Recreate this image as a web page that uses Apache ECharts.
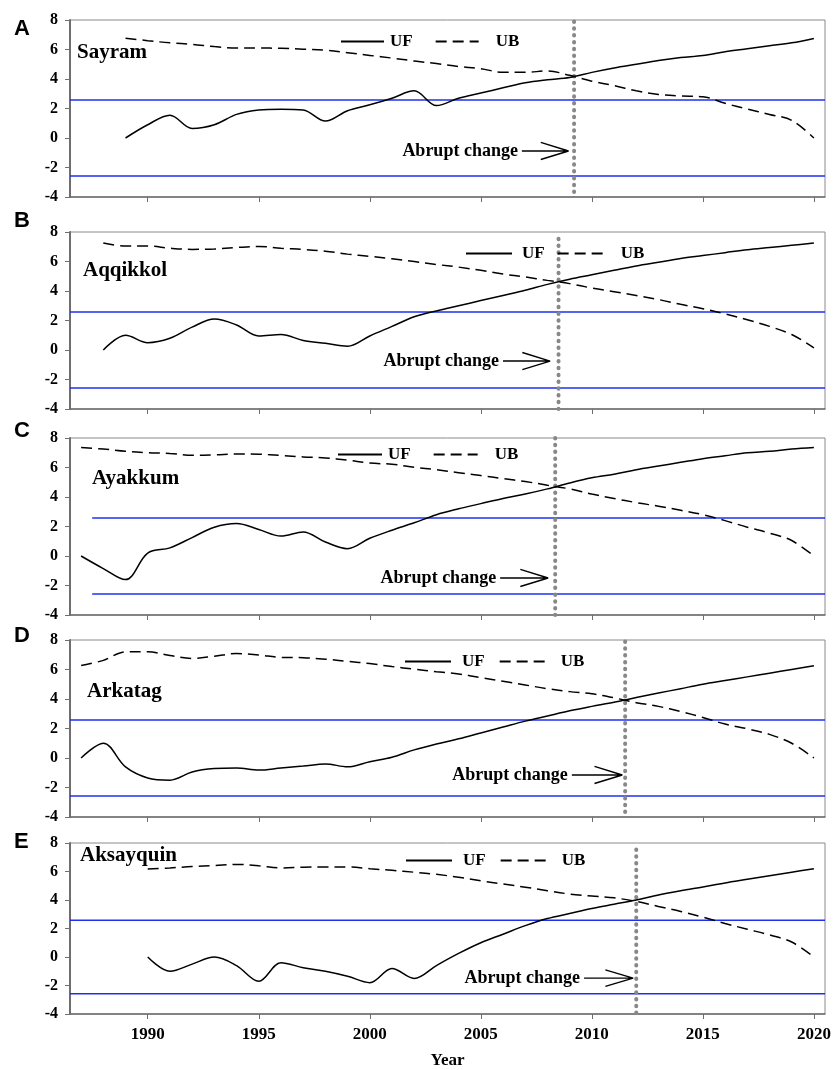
<!DOCTYPE html>
<html>
<head>
<meta charset="utf-8">
<title>Mann-Kendall test, UF / UB</title>
<script src="https://cdn.jsdelivr.net/npm/echarts@6/dist/echarts.min.js"></script>
<style>
    html, body { margin: 0; padding: 0; background: #fff; }
    #chart { width: 834px; height: 1070px; }
</style>
</head>
<body>
<div id="chart"></div>
<script>
// --- data ---
const lakes = ['Sayram', 'Aqqikkol', 'Ayakkum', 'Arkatag', 'Aksayquin'];
const panelLetters = ['A', 'B', 'C', 'D', 'E'];
const startYears = [1989, 1988, 1987, 1987, 1990];
const endYear = 2020;

const ufSayram = [0, 0.9, 1.55, 0.65, 0.9, 1.6, 1.9, 1.95, 1.9, 1.15, 1.85, 2.25, 2.7, 3.2, 2.2, 2.7,
    3.05, 3.4, 3.75, 3.95, 4.1, 4.45, 4.75, 5.0, 5.25, 5.45, 5.6, 5.85, 6.05, 6.25, 6.45, 6.75];
const ubSayram = [6.77, 6.6, 6.45, 6.35, 6.2, 6.1, 6.1, 6.08, 6.02, 5.95, 5.78, 5.6, 5.42, 5.22, 5.05, 4.85,
    4.7, 4.45, 4.45, 4.55, 4.25, 3.85, 3.55, 3.2, 2.95, 2.85, 2.8, 2.35, 1.97, 1.6, 1.2, 0];

const ufAqqikkol = [0, 1.0, 0.5, 0.8, 1.55, 2.1, 1.7, 0.95, 1.05, 0.65, 0.45, 0.25, 0.95, 1.6, 2.25, 2.65,
    3.0, 3.35, 3.7, 4.05, 4.45, 4.8, 5.1, 5.4, 5.7, 5.95, 6.2, 6.4, 6.6, 6.8, 6.95, 7.1, 7.25];
const ubAqqikkol = [7.25, 7.05, 7.05, 6.9, 6.82, 6.85, 6.95, 7.02, 6.9, 6.82, 6.7, 6.5, 6.35, 6.18, 6.0, 5.8,
    5.62, 5.4, 5.15, 4.95, 4.72, 4.5, 4.2, 3.95, 3.7, 3.42, 3.1, 2.8, 2.45, 2.05, 1.6, 1.05, 0.15];

const ufAyakkum = [0, -0.85, -1.6, 0.2, 0.55, 1.25, 1.95, 2.2, 1.8, 1.35, 1.63, 0.95, 0.5, 1.2, 1.75, 2.25,
    2.8, 3.2, 3.55, 3.9, 4.2, 4.55, 4.95, 5.3, 5.55, 5.85, 6.1, 6.35, 6.6, 6.8, 7.0, 7.1, 7.25, 7.35];
const ubAyakkum = [7.35, 7.25, 7.1, 7.0, 6.95, 6.83, 6.85, 6.92, 6.9, 6.82, 6.72, 6.65, 6.5, 6.3, 6.22, 6.02,
    5.85, 5.65, 5.45, 5.25, 5.05, 4.8, 4.55, 4.2, 3.9, 3.62, 3.38, 3.1, 2.8, 2.4, 1.95, 1.55, 1.05, 0];

const ufArkatag = [0, 1.0, -0.6, -1.35, -1.5, -0.95, -0.72, -0.68, -0.82, -0.68, -0.55, -0.4, -0.6, -0.25, 0.05, 0.55,
    0.95, 1.3, 1.7, 2.1, 2.5, 2.85, 3.2, 3.5, 3.78, 4.1, 4.4, 4.7, 5.0, 5.25, 5.5, 5.75, 6.0, 6.25];
const ubArkatag = [6.27, 6.62, 7.2, 7.2, 6.95, 6.75, 6.9, 7.08, 6.98, 6.82, 6.8, 6.7, 6.55, 6.4, 6.2, 6.02,
    5.85, 5.7, 5.45, 5.2, 4.95, 4.7, 4.5, 4.35, 4.08, 3.75, 3.5, 3.15, 2.75, 2.3, 1.98, 1.6, 1.0, 0];

const ufAksayquin = [0, -1.0, -0.5, 0.0, -0.6, -1.7, -0.4, -0.75, -1.0, -1.35, -1.8, -0.8, -1.5, -0.6, 0.25, 1.0,
    1.6, 2.2, 2.7, 3.05, 3.4, 3.7, 4.0, 4.35, 4.65, 4.92, 5.2, 5.45, 5.7, 5.95, 6.2];
const ubAksayquin = [6.18, 6.25, 6.35, 6.42, 6.5, 6.4, 6.25, 6.3, 6.32, 6.32, 6.2, 6.08, 5.95, 5.8, 5.6, 5.35,
    5.12, 4.9, 4.65, 4.42, 4.28, 4.15, 3.9, 3.55, 3.2, 2.8, 2.35, 1.95, 1.55, 1.05, 0];

const ufSeries = [ufSayram, ufAqqikkol, ufAyakkum, ufArkatag, ufAksayquin];
const ubSeries = [ubSayram, ubAqqikkol, ubAyakkum, ubArkatag, ubAksayquin];

const abruptYears = [2009.2, 2008.5, 2008.35, 2011.5, 2012.0];
const dotTops = [7.9, 7.55, 8, 7.9, 7.55];
const arrowFrom = [2006.85, 2006.0, 2005.87, 2009.1, 2009.65];
const arrowTo = [2008.95, 2008.12, 2008.03, 2011.37, 2011.86];
const arrowY = [-0.88, -0.75, -1.49, -1.15, -1.48];
const limitStart = [1986.5, 1986.5, 1987.5, 1986.5, 1986.5];
const criticalZ = 2.58;

const xTicks = [1990, 1995, 2000, 2005, 2010, 2015, 2020];
const xMin = 1986.5, xMax = 2020.5;

// --- layout ---
const gridTops = [20, 232, 438, 640, 843];
const gridH = 177;
const legendPos = [
    { left: 340, top: 33, w: 43, gap: 22, ufPad: 1, ubPad: 12 },
    { left: 465, top: 245, w: 46, gap: 12, ufPad: 5, ubPad: 12 },
    { left: 337, top: 446, w: 44, gap: 22, ufPad: 1, ubPad: 12 },
    { left: 404, top: 653, w: 46, gap: 14, ufPad: 6, ubPad: 10 },
    { left: 405, top: 852, w: 46, gap: 14, ufPad: 6, ubPad: 10 }
];
const namePos = [[77, 42], [83, 260], [92, 468], [87, 681], [80, 845]];
const letterTops = [18, 210, 420, 625, 831];

const serif = "'Liberation Serif', 'Times New Roman', serif";
const sans = "'Liberation Sans', Arial, sans-serif";
const axisGray = '#6e6e6e';

const pairs = (start, vals) => vals.map((v, k) => [start + k, v]);

document.addEventListener('DOMContentLoaded', () => {
    const chart = echarts.init(document.getElementById('chart'), null, { renderer: 'canvas' });

    const grids = [], xAxes = [], yAxes = [], series = [], titles = [], legends = [];

    lakes.forEach((lake, i) => {
        grids.push({
            left: 70, width: 755, top: gridTops[i], height: gridH,
            show: true, borderColor: '#8a8a8a', borderWidth: 1
        });

        xAxes.push({
            type: 'value', gridIndex: i, min: xMin, max: xMax,
            axisLine: { show: true, onZero: false, lineStyle: { color: axisGray, width: 1.5 } },
            axisTick: { show: true, customValues: xTicks, length: 5, lineStyle: { color: axisGray } },
            axisLabel: {
                show: i === 4, customValues: xTicks, formatter: v => String(v), margin: 12,
                fontFamily: serif, fontWeight: 'bold', fontSize: 17, color: '#000'
            },
            splitLine: { show: false },
            name: i === 4 ? 'Year' : '', nameLocation: 'middle', nameGap: 38,
            nameTextStyle: { fontFamily: serif, fontWeight: 'bold', fontSize: 17, color: '#000' }
        });

        yAxes.push({
            type: 'value', gridIndex: i, min: -4, max: 8, interval: 2,
            axisLine: { show: true, lineStyle: { color: axisGray, width: 2 } },
            axisTick: { show: true, length: 5, lineStyle: { color: axisGray } },
            axisLabel: { margin: 12, fontFamily: serif, fontWeight: 'bold', fontSize: 16, color: '#000' },
            splitLine: { show: false }
        });

        const common = { xAxisIndex: i, yAxisIndex: i, symbol: 'none', silent: true, animation: false };

        // 临界线 ±2.58
        [criticalZ, -criticalZ].forEach(z => {
            series.push({
                ...common, type: 'line', name: 'limit',
                data: [[limitStart[i], z], [xMax, z]],
                lineStyle: { color: '#1f2fee', width: 1.4 }
            });
        });

        // 突变点虚线
        series.push({
            ...common, type: 'line', name: 'abrupt',
            data: [[abruptYears[i], dotTops[i]], [abruptYears[i], -4]],
            lineStyle: { color: '#888', width: 4, type: [0.5, 6.3], cap: 'round' }
        });

        series.push({
            ...common, type: 'line', name: 'UF', smooth: 0.35,
            data: pairs(startYears[i], ufSeries[i]),
            itemStyle: { color: '#000' },
            lineStyle: { color: '#000', width: 1.5 }
        });
        series.push({
            ...common, type: 'line', name: 'UB', smooth: 0.35,
            data: pairs(startYears[i], ubSeries[i]),
            itemStyle: { color: '#000' },
            lineStyle: { color: '#000', width: 1.5, type: [11, 6] }
        });

        // 箭头 + 文字
        const tip = arrowTo[i], y = arrowY[i];
        series.push({
            xAxisIndex: i, yAxisIndex: i, type: 'line', name: 'arrow', silent: true, animation: false,
            symbol: 'circle', symbolSize: 0, showSymbol: true,
            data: [
                {
                    value: [arrowFrom[i], y],
                    label: {
                        show: true, position: 'left', distance: 4, formatter: 'Abrupt change',
                        fontFamily: serif, fontWeight: 'bold', fontSize: 18, color: '#000'
                    }
                },
                [tip, y], [tip - 1.25, y + 0.58], [tip, y], [tip - 1.25, y - 0.58]
            ],
            lineStyle: { color: '#000', width: 1.4 }
        });

        titles.push({
            text: lake, left: namePos[i][0], top: namePos[i][1], padding: 0,
            textStyle: { fontFamily: serif, fontWeight: 'bold', fontSize: 21, color: '#000' }
        });
        titles.push({
            text: panelLetters[i], left: 14, top: letterTops[i], padding: 0,
            textStyle: { fontFamily: sans, fontWeight: 'bold', fontSize: 22, color: '#000' }
        });

        const lp = legendPos[i];
        legends.push({
            left: lp.left, top: lp.top, padding: 0, orient: 'horizontal',
            itemWidth: lp.w, itemHeight: 14, itemGap: lp.gap, selectedMode: false,
            itemStyle: { opacity: 0 },
            data: [
                { name: 'UF', textStyle: { padding: [0, 0, 0, lp.ufPad] } },
                { name: 'UB', textStyle: { padding: [0, 0, 0, lp.ubPad] } }
            ],
            textStyle: { fontFamily: serif, fontWeight: 'bold', fontSize: 17, color: '#000' }
        });
    });

    chart.setOption({
        backgroundColor: '#fff',
        animation: false,
        title: titles,
        legend: legends,
        grid: grids,
        xAxis: xAxes,
        yAxis: yAxes,
        series: series
    });

    window.addEventListener('resize', () => chart.resize());
});
</script>
</body>
</html>
